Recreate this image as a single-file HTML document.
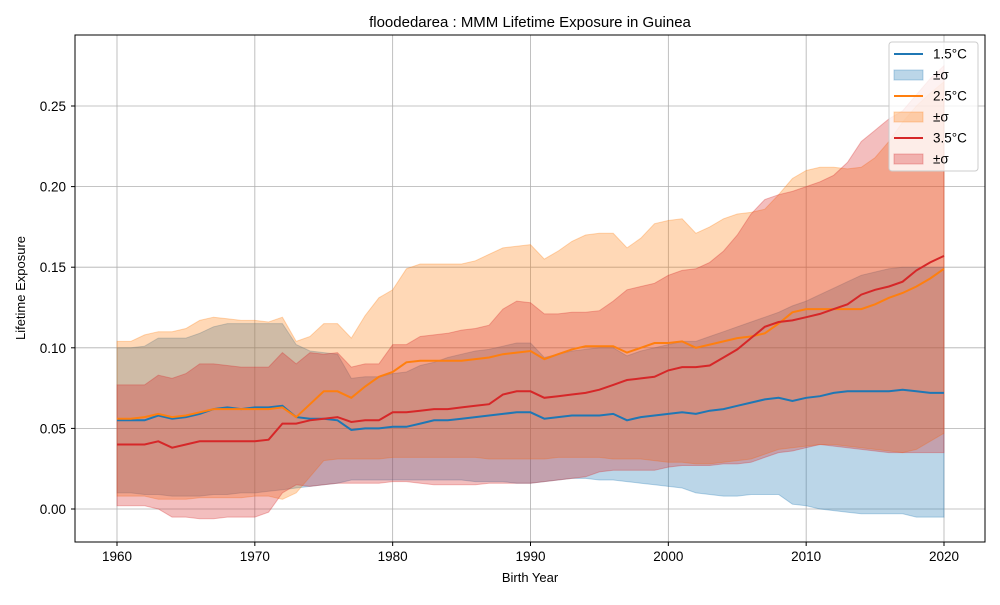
<!DOCTYPE html>
<html><head><meta charset="utf-8"><style>
body{margin:0;background:#fff}
text{font-family:"Liberation Sans",sans-serif;fill:#000}
</style></head><body>
<svg id="chart" width="1000" height="600" xmlns="http://www.w3.org/2000/svg">
<rect width="1000" height="600" fill="#fff"/>
<text x="530" y="27" font-size="15" text-anchor="middle">floodedarea : MMM Lifetime Exposure in Guinea</text>
<g id="grid"></g>
<g id="fills"></g>
<g id="lines"></g>
<rect x="75" y="35" width="910" height="507" fill="none" stroke="#000" stroke-width="1"/>
<g id="axes"></g>
<text x="530" y="582" font-size="13" text-anchor="middle">Birth Year</text>
<text x="25" y="288" font-size="13" text-anchor="middle" transform="rotate(-90 25 288)">Lifetime Exposure</text>
<g id="legend"></g>
</svg>
<script>
const years=[];for(let y=1960;y<=2020;y++)years.push(y);
const mean15=[.055,.055,.055,.058,.056,.057,.059,.062,.063,.062,.063,.063,.064,.057,.056,.056,.055,.049,.050,.050,.051,.051,.053,.055,.055,.056,.057,.058,.059,.060,.060,.056,.057,.058,.058,.058,.059,.055,.057,.058,.059,.060,.059,.061,.062,.064,.066,.068,.069,.067,.069,.070,.072,.073,.073,.073,.073,.074,.073,.072,.072];
const upper15=[.100,.100,.101,.106,.106,.106,.109,.113,.115,.115,.115,.115,.115,.102,.098,.097,.096,.081,.082,.082,.084,.085,.089,.091,.094,.096,.098,.099,.101,.103,.103,.094,.096,.098,.099,.100,.100,.095,.098,.100,.102,.104,.104,.107,.110,.113,.116,.119,.122,.126,.129,.133,.137,.141,.145,.147,.149,.150,.150,.150,.150];
const lower15=[.010,.010,.009,.009,.008,.008,.008,.009,.009,.010,.010,.011,.012,.013,.014,.015,.016,.018,.018,.018,.018,.018,.018,.018,.018,.018,.017,.017,.017,.016,.016,.017,.018,.019,.019,.018,.018,.017,.016,.015,.014,.013,.010,.009,.008,.008,.009,.009,.009,.003,.002,.000,-.001,-.002,-.003,-.003,-.003,-.003,-.005,-.005,-.005];
const mean25=[.056,.056,.057,.059,.057,.058,.060,.062,.062,.062,.062,.062,.063,.057,.065,.073,.073,.069,.076,.082,.085,.091,.092,.092,.092,.092,.093,.094,.096,.097,.098,.093,.096,.099,.101,.101,.101,.097,.100,.103,.103,.104,.100,.102,.104,.106,.107,.109,.115,.122,.124,.124,.124,.124,.124,.127,.131,.134,.138,.143,.149];
const upper25=[.104,.104,.108,.110,.110,.112,.117,.119,.118,.117,.117,.116,.119,.104,.107,.115,.115,.106,.120,.131,.136,.149,.152,.152,.152,.152,.154,.158,.162,.163,.164,.155,.160,.166,.170,.171,.171,.162,.168,.177,.179,.180,.171,.175,.180,.183,.184,.186,.195,.205,.210,.212,.212,.211,.212,.218,.228,.240,.250,.258,.265];
const lower25=[.008,.008,.008,.006,.006,.006,.007,.007,.007,.007,.008,.008,.006,.010,.020,.030,.031,.031,.031,.031,.032,.032,.032,.032,.032,.032,.032,.031,.031,.031,.031,.031,.032,.032,.032,.032,.031,.031,.031,.030,.029,.029,.028,.028,.029,.030,.031,.034,.037,.038,.039,.040,.040,.039,.038,.037,.036,.035,.037,.042,.047];
const mean35=[.040,.040,.040,.042,.038,.040,.042,.042,.042,.042,.042,.043,.053,.053,.055,.056,.057,.054,.055,.055,.060,.060,.061,.062,.062,.063,.064,.065,.071,.073,.073,.069,.070,.071,.072,.074,.077,.080,.081,.082,.086,.088,.088,.089,.094,.099,.106,.113,.116,.117,.119,.121,.124,.127,.133,.136,.138,.141,.148,.153,.157];
const upper35=[.077,.077,.077,.083,.081,.084,.090,.090,.089,.088,.088,.088,.097,.090,.097,.096,.097,.088,.090,.090,.102,.102,.107,.108,.109,.111,.112,.114,.124,.129,.128,.121,.121,.122,.122,.123,.129,.136,.138,.140,.145,.148,.149,.153,.160,.170,.183,.192,.195,.197,.200,.203,.207,.215,.228,.235,.242,.247,.257,.267,.275];
const lower35=[.002,.002,.002,.000,-.005,-.005,-.006,-.006,-.005,-.005,-.005,-.002,.010,.015,.014,.015,.016,.016,.016,.016,.017,.017,.016,.015,.015,.015,.015,.016,.016,.016,.016,.017,.018,.019,.020,.023,.024,.024,.024,.024,.026,.027,.027,.027,.028,.028,.029,.032,.035,.036,.038,.040,.039,.038,.037,.036,.035,.035,.035,.035,.035];
const xTicks=[1960,1970,1980,1990,2000,2010,2020];
const yTicks=[0,0.05,0.10,0.15,0.20,0.25];
const yTickLabels=["0.00","0.05","0.10","0.15","0.20","0.25"];
const legendLabels=["1.5°C","±σ","2.5°C","±σ","3.5°C","±σ"];

const NS="http://www.w3.org/2000/svg";
const X=v=>117+(v-1960)*(944-117)/60;
const Y=v=>509-v*1612;
function mk(tag,parent,attrs){const e=document.createElementNS(NS,tag);for(const k in attrs)e.setAttribute(k,attrs[k]);document.getElementById(parent).appendChild(e);return e;}
xTicks.forEach(t=>{
  const g=mk('line','grid',{x1:X(t),x2:X(t),y1:35,y2:542,stroke:'#b0b0b0','stroke-width':0.8});
  
  
  const tk=mk('line','axes',{x1:X(t),x2:X(t),y1:542,y2:546,stroke:'#000'});
  
  
  const tx=mk('text','axes',{x:X(t),y:561,'font-size':13.5,'text-anchor':'middle'});tx.textContent=t;
  
  
});
yTicks.forEach((t,i)=>{
  const g=mk('line','grid',{x1:75,x2:985,y1:Y(t),y2:Y(t),stroke:'#b0b0b0','stroke-width':0.8});
  
  
  const tk=mk('line','axes',{x1:71,x2:75,y1:Y(t),y2:Y(t),stroke:'#000'});
  
  
  const tx=mk('text','axes',{x:66,y:Y(t)+5,'font-size':13.5,'text-anchor':'end'});tx.textContent=yTickLabels[i];
  
  
});
const series=[
 {m:mean15,u:upper15,l:lower15,c:'#1f77b4',n:'15'},
 {m:mean25,u:upper25,l:lower25,c:'#ff7f0e',n:'25'},
 {m:mean35,u:upper35,l:lower35,c:'#d62728',n:'35'}];
series.forEach(s=>{
  let d='M'+years.map((y,i)=>X(y).toFixed(1)+','+Y(s.u[i]).toFixed(1)).join('L');
  d+='L'+years.slice().reverse().map((y,j)=>{const i=years.length-1-j;return X(y).toFixed(1)+','+Y(s.l[i]).toFixed(1);}).join('L')+'Z';
  const f=mk('path','fills',{d:d,fill:s.c,'fill-opacity':0.3,stroke:s.c,'stroke-opacity':0.3});
  
  
});
series.forEach(s=>{
  const p=mk('polyline','lines',{points:years.map((y,i)=>X(y).toFixed(1)+','+Y(s.m[i]).toFixed(1)).join(' '),fill:'none',stroke:s.c,'stroke-width':2});
  
  
});
const lb=mk('rect','legend',{x:889,y:42,width:89,height:129,rx:3,fill:'#fff','fill-opacity':0.8,stroke:'#ccc'});


legendLabels.forEach((t,i)=>{
  const y=54+i*21;const c=series[Math.floor(i/2)].c;
  let e;
  if(i%2==0){e=mk('line','legend',{x1:894,x2:923,y1:y,y2:y,stroke:c,'stroke-width':2});}
  else{e=mk('rect','legend',{x:894,y:y-5,width:29,height:10,fill:c,'fill-opacity':0.3,stroke:c,'stroke-opacity':0.3});}
  
  
  const tx=mk('text','legend',{x:933,y:y+4.5,'font-size':13.5});tx.textContent=t;
  
  
});
</script>
</body></html>
